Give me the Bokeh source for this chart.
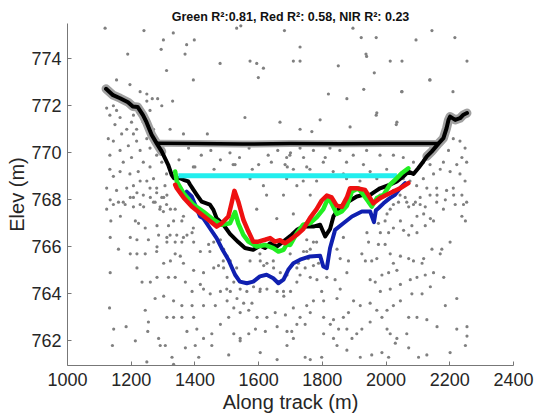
from bokeh.plotting import figure
from bokeh.models import Range1d, FixedTicker
from bokeh.embed import file_html
from bokeh.resources import INLINE

# ---------------- data ----------------
title_text = "Green R\u00b2:0.81, Red R\u00b2: 0.58, NIR R\u00b2: 0.23"
x_ticks = [1000, 1200, 1400, 1600, 1800, 2000, 2200, 2400]
y_ticks = [762, 764, 766, 768, 770, 772, 774]

# ground / bank profile (black)
ground_x = [1121, 1143, 1165, 1190, 1205, 1220, 1237, 1248, 1264, 1280, 1296, 1316, 1327, 1334,
            1353, 1364, 1379, 1385, 1395, 1406, 1421, 1447, 1458, 1468, 1489, 1510, 1536, 1557,
            1583, 1605, 1620, 1636, 1657, 1678, 1704, 1720, 1740, 1772, 1793, 1809, 1824, 1835,
            1856, 1882, 1908, 1929, 1950, 1965, 1981, 2012, 2034, 2054, 2070, 2086, 2101, 2117,
            2128, 2143, 2165, 2180, 2190, 2196, 2201, 2217, 2232, 2243, 2254]
ground_y = [772.72, 772.45, 772.32, 772.15, 771.97, 771.95, 771.6, 771.3, 770.77, 770.4, 770.05,
            769.49, 769.06, 768.92, 768.92, 768.85, 768.78, 768.64, 768.43, 768.21, 767.92, 767.79,
            767.57, 767.22, 766.95, 766.55, 766.2, 765.95, 765.87, 766.05, 765.95, 766.15, 766.01,
            766.23, 766.51, 766.72, 766.86, 766.86, 766.94, 766.44, 766.75, 767.3, 767.71, 767.93,
            768.14, 768.21, 768.21, 768.35, 768.49, 768.64, 768.78, 768.99, 769.2, 769.1, 769.34,
            769.63, 769.85, 770.05, 770.4, 770.62, 771.05, 771.4, 771.54, 771.4, 771.47, 771.62,
            771.69]

# water surface (black horizontal)
surface_x = [1280, 1400, 1550, 1700, 1850, 2000, 2165]
surface_y = [770.41, 770.4, 770.37, 770.39, 770.38, 770.39, 770.4]

# cyan reference level
cyan_x = [1348, 2034]
cyan_y = [769.02, 769.02]

# green band derived bathymetry
green_x = [1338, 1343, 1364, 1395, 1426, 1458, 1484, 1510, 1526, 1536, 1552, 1568, 1594, 1620,
           1646, 1662, 1678, 1688, 1699, 1720, 1740, 1761, 1782, 1803, 1819, 1829, 1845, 1861,
           1877, 1893, 1913, 1929, 1944, 1955, 1971, 1992, 2012, 2034, 2049, 2070]
green_y = [769.2, 768.78, 768.28, 767.79, 767.5, 767.15, 766.94, 767.0, 767.48, 767.0, 766.51,
           766.22, 766.01, 766.08, 765.94, 765.8, 765.87, 766.1, 766.08, 766.58, 766.94, 767.0,
           767.25, 767.6, 768.1, 767.85, 767.4, 767.5, 767.75, 768.35, 768.49, 768.21, 767.93,
           767.71, 768.07, 768.21, 768.64, 768.92, 769.13, 769.34]

# red band derived bathymetry
red_x = [1338, 1343, 1364, 1390, 1416, 1442, 1468, 1484, 1505, 1515, 1524, 1536, 1552, 1568,
         1583, 1599, 1620, 1636, 1651, 1667, 1683, 1699, 1720, 1740, 1761, 1782, 1798, 1814,
         1829, 1845, 1861, 1877, 1887, 1908, 1934, 1950, 1960, 1981, 2002, 2023, 2044, 2070]
red_y = [768.64, 768.49, 768.1, 767.71, 767.43, 767.15, 766.86, 767.0, 767.29, 767.85, 768.38,
         767.93, 767.15, 766.65, 766.22, 766.22, 766.3, 766.37, 766.22, 766.28, 766.15, 766.3,
         766.51, 766.75, 767.22, 767.6, 767.97, 768.18, 768.1, 767.75, 767.7, 768.1, 768.49,
         768.49, 768.42, 768.07, 767.85, 768.07, 768.21, 768.35, 768.49, 768.71]

# NIR band derived bathymetry (blue)
nir_x = [1374, 1390, 1416, 1426, 1447, 1468, 1484, 1505, 1526, 1541, 1563, 1583, 1604, 1625,
         1646, 1662, 1678, 1693, 1709, 1730, 1761, 1793, 1803, 1814, 1824, 1840, 1866, 1893,
         1924, 1950, 1962, 1968, 1976, 1992, 2012, 2028, 2044, 2060]
nir_y = [768.35, 768.14, 767.29, 767.22, 766.79, 766.37, 765.94, 765.45, 764.81, 764.52, 764.45,
         764.52, 764.74, 764.81, 764.66, 764.45, 764.6, 765.02, 765.3, 765.45, 765.59, 765.62,
         765.16, 765.09, 765.94, 766.72, 767.0, 767.29, 767.5, 767.5, 767.05, 767.55, 767.64,
         767.85, 768.07, 768.21, 768.49, 768.71]

# photon returns (gray points)
photon_x = [
    1134, 1160, 1197, 1218, 1260, 1275, 1302, 1312, 1181, 1207, 1239, 1291, 1323, 1338, 1166, 1223,
    1213, 1244, 1281, 1317, 1333, 1359, 1364, 1136, 1134, 1197, 1218, 1254, 1286, 1312, 1343, 1375,
    1391, 1160, 1197, 1218, 1244, 1281, 1312, 1338, 1359, 1396, 1417, 1443, 1459, 1480, 1490, 1501,
    1511, 1134, 1218, 1302, 1323, 1338, 1354, 1364, 1396, 1427, 1459, 1474, 1490, 1501, 1522, 1542,
    1563, 1584, 1605, 1616, 1626, 1647, 1668, 1689, 1234, 1260, 1281, 1317, 1338, 1370, 1391, 1417,
    1448, 1480, 1511, 1532, 1553, 1579, 1605, 1626, 1658, 1679, 1700, 1132, 1244, 1275, 1302, 1333,
    1359, 1391, 1427, 1464, 1501, 1522, 1542, 1569, 1595, 1626, 1652, 1684, 1145, 1184, 1213, 1254,
    1252, 1286, 1291, 1312, 1333, 1359, 1375, 1396, 1406, 1427, 1453, 1480, 1506, 1522, 1542, 1569,
    1590, 1621, 1658, 1689, 1141, 1249, 1307, 1328, 1370, 1401, 1412, 1453, 1506, 1542, 1605, 1658,
    1689, 1333,
    1720, 1751, 1762, 1772, 1741, 1756, 1725, 1746, 1772, 1788, 1730, 1762, 1783, 1814, 1720, 1709,
    1751, 1772, 1804, 1840, 1856, 1846, 1798, 1846, 1866, 1856, 1882, 1877, 1924, 1935, 1955, 1971,
    1945, 1976, 1940, 1982, 1976, 1997, 2003, 2013, 2023, 2039, 2060, 2071, 2092, 2107, 2123, 2118,
    2097, 2081, 2045, 2023, 2008, 2055, 2071, 2097, 2123, 2139, 2149, 2160, 2186, 2212, 2243, 2238,
    2249, 2201, 2175, 2170, 2144, 2118, 2113, 2086, 2071, 2045, 2013, 1997, 2023, 2034, 2008, 1987,
    1950, 1966, 1982, 2013, 2045, 2076, 2097, 2123, 2149, 2181, 2139, 2113, 2081, 2045, 2023, 2003,
    1971, 1950, 1919, 1898, 1882, 1866, 1835, 1804, 1762, 1730, 1720, 1746, 1825, 1851, 1877, 1893,
    1908, 1924, 1950, 1987, 2003, 2013, 2034, 2065, 2071, 2097, 2128, 2160, 2186, 2222, 2222, 2254,
    2254, 2249, 2201, 2128, 2102, 2071, 2029, 2008, 1987, 1955, 1919, 1877, 1846, 1835, 1804, 1798,
    1762, 1746, 1709, 1704,
    1118, 1240, 1332, 1301, 1374, 1398, 1294, 1369, 1189, 1531, 1544, 1681, 1730, 1896, 1922, 1969,
    1937, 1939, 2094, 2144, 2216, 2013, 1573, 1709, 1963, 2137, 1930, 2050, 2210, 1969, 2032, 2050,
    2254, 1311, 1196, 1154, 1228, 1249, 1266, 1283, 1330, 1296, 1395, 1479, 1594, 1615, 1599, 1557,
    1667, 1439, 1322, 1364, 1730, 1850, 2138, 1819, 1877, 2049, 1971, 1793, 1887, 2034, 1730, 1767,
    1123, 1133, 1144, 1154, 1165, 1149, 1128, 1144, 1170, 1186, 1201, 1207, 1191, 1165, 1133, 1175,
    1201, 1228, 1217, 1238, 1259, 1222, 1196, 1165, 1144, 1133, 1123, 1154, 1186, 1207, 1228, 1249,
    1270, 1259, 1238, 1207, 1175, 1144, 1123, 1228, 1270, 1296, 1280, 1290, 1311, 1249, 1259, 1228,
    1207, 1238, 1217, 1270, 1249, 1259, 1280, 1296, 1311, 1306,
    2211, 2232, 2248, 2238, 2253, 2222, 2201, 2232, 2248, 2211, 2190, 2238, 2253, 2217, 2180, 2159,
    2138, 2159, 2128, 2117, 2149, 2170, 2180, 2196, 2107, 2086, 2065, 2044, 2023, 2002, 1981, 2096,
    2075, 2054, 2138, 2117, 2086, 2054, 2023, 1981, 1939, 1897, 1855, 1824, 1772, 1730, 1698, 1876,
    1929, 1803, 1761, 1709, 1688, 1740, 1782, 1834, 1876, 1918, 1971, 2002, 1950,
    1380, 1420, 1450, 1480, 1510, 1540, 1570, 1600, 1630, 1660, 1400, 1460, 1520, 1580, 1640, 1690,
    1350, 1700,
    1395, 1526, 1615, 1688, 1683, 1741, 1809, 1573, 1625, 1678, 1720, 1751, 1866, 1762, 1594, 1657,
    1709, 1280, 1301, 1322, 1280, 1364, 1395, 1447, 1489, 1531, 1573, 1604, 1646, 1699, 1720, 1751,
    1782, 1604, 1678, 1500, 1427]
photon_y = [
    768.0, 767.9, 768.1, 768.3, 768.1, 767.9, 768.1, 768.2, 767.8, 767.7, 767.7, 767.7, 767.6, 767.6,
    767.3, 767.0, 767.1, 766.8, 766.9, 766.9, 767.1, 767.1, 767.3, 767.1, 766.4, 766.4, 766.3, 766.3,
    766.5, 766.4, 766.5, 766.5, 766.6, 765.9, 765.7, 765.7, 765.7, 766.0, 766.2, 766.2, 766.2, 766.2,
    765.8, 766.1, 766.2, 766.3, 765.9, 765.6, 765.4, 764.9, 765.1, 765.3, 765.4, 765.7, 765.6, 765.3,
    765.0, 764.9, 765.1, 765.2, 765.1, 764.7, 764.5, 764.2, 764.1, 764.3, 765.4, 765.2, 765.3, 765.1,
    764.9, 764.8, 764.5, 764.5, 764.7, 764.7, 764.7, 764.5, 764.1, 764.4, 764.0, 764.1, 764.1, 763.8,
    763.6, 763.6, 764.2, 764.2, 764.1, 763.9, 764.1, 763.4, 763.3, 763.8, 763.9, 763.7, 763.5, 763.5,
    763.5, 763.5, 763.7, 763.4, 763.2, 763.3, 763.0, 763.0, 763.2, 763.1, 762.5, 762.6, 762.0, 762.8,
    762.4, 762.1, 761.8, 763.0, 763.0, 763.0, 762.4, 763.0, 762.5, 762.1, 762.3, 762.7, 763.0, 762.3,
    762.1, 762.3, 762.5, 762.4, 762.6, 762.4, 761.8, 761.1, 761.8, 761.3, 761.7, 761.8, 761.3, 761.8,
    761.4, 762.0, 761.5, 761.2, 761.8, 761.0,
    766.5, 766.3, 765.9, 766.2, 765.8, 765.5, 765.3, 765.1, 765.2, 765.3, 764.8, 764.7, 764.6, 764.7,
    764.5, 763.4, 763.5, 763.7, 763.7, 764.6, 764.2, 763.8, 764.1, 765.9, 766.4, 765.5, 765.4, 764.9,
    765.7, 765.4, 765.4, 765.5, 766.2, 766.1, 766.6, 766.6, 767.0, 767.1, 767.4, 767.6, 767.8, 767.9,
    768.1, 767.7, 767.9, 767.8, 767.7, 767.4, 767.3, 766.9, 767.1, 766.8, 766.6, 766.7, 766.5, 766.6,
    766.9, 767.2, 767.1, 768.2, 768.0, 768.2, 767.8, 767.3, 767.1, 766.2, 765.9, 765.7, 765.9, 765.5,
    765.3, 765.4, 765.5, 765.6, 765.7, 766.1, 765.3, 765.0, 764.9, 764.8, 764.6, 764.5, 764.1, 764.2,
    764.4, 764.6, 764.7, 764.8, 764.9, 764.7, 764.3, 764.0, 764.0, 763.7, 763.5, 763.3, 763.3, 763.6,
    763.5, 763.7, 763.2, 763.0, 762.9, 763.0, 763.2, 763.0, 762.7, 762.7, 762.7, 762.5, 762.5, 762.1,
    762.3, 762.5, 762.8, 763.0, 762.5, 762.3, 762.1, 762.3, 763.0, 763.0, 762.9, 762.6, 763.5, 763.8,
    762.5, 762.6, 762.2, 761.8, 761.5, 761.4, 761.3, 761.7, 761.9, 761.3, 761.5, 761.4, 761.3, 761.6,
    761.8, 762.1, 762.3, 761.3, 761.2, 761.3, 762.1, 762.4,
    775.3, 775.2, 775.1, 774.8, 774.6, 774.8, 774.4, 774.2, 774.2, 775.3, 775.4, 775.2, 774.5, 775.3,
    774.9, 774.9, 774.2, 774.1, 774.8, 775.2, 774.9, 773.9, 773.9, 773.9, 773.4, 773.1, 772.7, 772.6,
    772.6, 771.6, 771.2, 773.9, 773.9, 773.5, 772.9, 773.1, 772.6, 772.5, 772.3, 772.3, 772.2, 772.0,
    773.1, 773.8, 773.8, 773.6, 773.2, 771.5, 771.3, 770.8, 771.0, 770.8, 773.9, 773.7, 773.1, 772.5,
    772.3, 772.6, 771.7, 771.4, 771.1, 771.3, 771.0, 770.9,
    771.9, 771.6, 772.0, 771.8, 771.5, 771.2, 770.6, 770.5, 770.8, 771.0, 771.3, 770.8, 770.3, 770.1,
    769.9, 769.6, 769.8, 770.1, 770.5, 769.6, 769.4, 769.2, 769.1, 769.2, 769.0, 769.3, 768.5, 768.4,
    768.5, 768.6, 768.8, 768.8, 768.9, 768.5, 768.2, 768.1, 767.9, 767.8, 767.6, 767.8, 767.9, 768.1,
    768.3, 767.6, 767.8, 772.2, 771.8, 771.8, 771.6, 771.3, 771.0, 771.0, 770.6, 770.2, 769.9, 769.6,
    769.1, 768.6,
    770.6, 770.5, 770.2, 769.8, 769.6, 769.5, 769.2, 769.1, 768.8, 768.5, 768.4, 768.2, 767.9, 767.8,
    767.6, 767.9, 768.2, 768.5, 768.5, 768.9, 769.1, 769.3, 769.6, 770.1, 768.1, 767.8, 767.9, 768.2,
    768.4, 768.5, 768.2, 768.6, 768.8, 768.9, 769.5, 769.6, 769.6, 769.8, 769.9, 769.9, 770.1, 769.9,
    770.1, 770.2, 770.1, 770.2, 769.9, 769.6, 769.5, 769.6, 769.3, 769.3, 768.9, 768.8, 768.8, 769.2,
    768.9, 768.8, 768.9, 769.3, 769.2,
    770.2, 769.9, 770.1, 769.7, 770.0, 769.8, 770.2, 769.5, 769.9, 770.1, 769.4, 769.3, 769.5, 769.3,
    769.6, 769.4, 769.7, 770.0,
    769.4, 769.5, 768.6, 769.8, 769.5, 769.8, 769.8, 768.9, 768.2, 768.2, 768.6, 769.4, 769.1, 768.2,
    767.6, 767.2, 767.4, 768.5, 767.5, 766.5, 765.8, 766.4, 766.8, 765.8, 765.4, 765.1, 765.4, 765.7,
    765.4, 765.7, 765.1, 765.8, 766.2, 764.1, 764.1, 764.2, 764.2]

# ---------------- figure ----------------
FONT = "Liberation Sans"
p = figure(width=537, height=419, output_backend="svg", toolbar_location=None,
           x_range=Range1d(1000, 2400), y_range=Range1d(760.95, 775.5),
           min_border_left=67, min_border_right=24, min_border_top=23, min_border_bottom=54,
           background_fill_color="white", border_fill_color="white")
p.outline_line_color = None
p.grid.visible = False

p.title.text = title_text
p.title.align = "center"
p.title.text_font = FONT
p.title.text_font_size = "12.5px"
p.title.text_font_style = "bold"
p.title.text_color = "#111111"
p.title.standoff = 0

p.xaxis.ticker = FixedTicker(ticks=x_ticks)
p.yaxis.ticker = FixedTicker(ticks=y_ticks)
for ax in (p.xaxis[0], p.yaxis[0]):
    ax.axis_line_color = "#777777"
    ax.axis_line_width = 1
    ax.major_tick_line_color = "#777777"
    ax.major_tick_in = 4
    ax.major_tick_out = 0
    ax.minor_tick_line_color = None
    ax.major_label_text_font = FONT
    ax.major_label_text_font_size = "18px"
    ax.major_label_text_color = "#262626"
    ax.axis_label_text_font = FONT
    ax.axis_label_text_font_size = "20px"
    ax.axis_label_text_font_style = "normal"
    ax.axis_label_text_color = "#262626"
p.xaxis.axis_label = "Along track (m)"
p.yaxis.axis_label = "Elev (m)"
p.xaxis.major_label_standoff = 7
p.yaxis.major_label_standoff = 6
p.xaxis.axis_label_standoff = 2
p.yaxis.axis_label_standoff = 0

# photons
p.scatter(photon_x, photon_y, size=3.2, color="#808080", line_color=None)

# dense photon band along the exposed banks and the water surface
p.line(ground_x[:11], ground_y[:11], line_color="#a0a0a0", line_width=9,
       line_join="round", line_cap="round")
p.line(ground_x[-11:], ground_y[-11:], line_color="#a0a0a0", line_width=9,
       line_join="round", line_cap="round")
p.line(surface_x, surface_y, line_color="#a8a8a8", line_width=7, line_join="round")

# profiles
p.line(ground_x, ground_y, line_color="black", line_width=4, line_join="round", line_cap="round")
p.line(surface_x, surface_y, line_color="black", line_width=3.5, line_join="round")
p.line(cyan_x, cyan_y, line_color="#22eeee", line_width=5)
p.line(nir_x, nir_y, line_color="#1020b0", line_width=4, line_join="round", line_cap="round")
p.line(green_x, green_y, line_color="#22ee22", line_width=4.5, line_join="round", line_cap="round")
p.line(red_x, red_y, line_color="#ee1111", line_width=4.5, line_join="round", line_cap="round")

open("out.html", "w").write(file_html(p, INLINE))
